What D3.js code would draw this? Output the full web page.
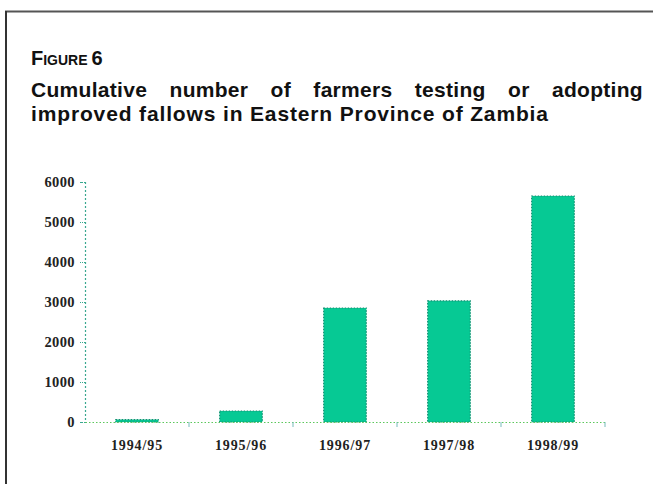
<!DOCTYPE html>
<html><head><meta charset="utf-8">
<script src="https://cdn.jsdelivr.net/npm/d3@7"></script>
<style>html,body{margin:0;padding:0;background:#fff;}</style>
</head><body>
<svg id="chart" width="653" height="484"></svg>
<script>
const categories = ["1994/95","1995/96","1996/97","1997/98","1998/99"];
const farmers = [60, 275, 2850, 3030, 5650];
const yTicks = [0,1000,2000,3000,4000,5000,6000];
const titleLines = ["Cumulative number of farmers testing or adopting","improved fallows in Eastern Province of Zambia"];

const svg = d3.select("#chart");
// frame lines (top and left)
svg.append("line").attr("x1",5).attr("x2",653).attr("y1",11.5).attr("y2",11.5).attr("stroke","#555").attr("stroke-width",2);
svg.append("line").attr("x1",6).attr("x2",6).attr("y1",11).attr("y2",484).attr("stroke","#333").attr("stroke-width",2);

const tf = "'Liberation Sans',Arial,sans-serif";
const fig = svg.append("text").attr("x",31).attr("y",65).attr("font-family",tf).attr("font-weight","bold").attr("fill","#111");
fig.append("tspan").attr("font-size",20).text("F");
fig.append("tspan").attr("font-size",14).text("IGURE ");
fig.append("tspan").attr("font-size",20).text("6");

// justified first line
const words = titleLines[0].split(" ");
const g1 = svg.append("g");
const wn = words.map(w => g1.append("text").attr("y",97).attr("font-family",tf).attr("font-weight","bold").attr("font-size",21).attr("letter-spacing",0.3).attr("fill","#111").text(w));
const widths = wn.map(n => n.node().getComputedTextLength());
const total = d3.sum(widths);
const left = 31, right = 643;
const gap = (right-left-total)/(words.length-1);
let cx = left;
wn.forEach((n,i)=>{ n.attr("x",cx); cx += widths[i]+gap; });
svg.append("text").attr("x",31).attr("y",121).attr("font-family",tf).attr("font-weight","bold").attr("font-size",21).attr("fill","#111")
  .attr("textLength",517).attr("lengthAdjust","spacing").text(titleLines[1]);

// chart
const x = d3.scaleBand().domain(categories).range([85,605]).paddingInner(0.59).paddingOuter(0.295);
const y = d3.scaleLinear().domain([0,6000]).range([422,182]);
const axisCol = "#3aa890";

// bars
svg.append("g").selectAll("rect").data(farmers).join("rect")
  .attr("x",(d,i)=>x(categories[i]))
  .attr("y",d=>y(d))
  .attr("width",x.bandwidth())
  .attr("height",d=>y(0)-y(d))
  .attr("fill","#06c994")
  .attr("stroke","#178f72").attr("stroke-width",1.2).attr("stroke-dasharray","1.5,1.5");

// y axis
const yAxis = svg.append("g").attr("transform","translate(85,0)").call(d3.axisLeft(y).tickValues(yTicks).tickSize(5).tickPadding(5).tickFormat(d3.format("d")));
yAxis.select(".domain").attr("stroke",axisCol).attr("stroke-dasharray","2,2").attr("stroke-width",1.2);
yAxis.selectAll(".tick line").attr("stroke",axisCol).attr("stroke-dasharray","1,1");
yAxis.selectAll(".tick text").attr("font-family","'Liberation Serif','Times New Roman',serif").attr("font-weight","bold").attr("font-size",14.5).attr("fill","#222").attr("letter-spacing",0.4);

// x axis
const xAxis = svg.append("g").attr("transform","translate(0,422)").call(d3.axisBottom(x).tickSize(0).tickPadding(18));
xAxis.select(".domain").attr("stroke","#5cc85c").attr("stroke-dasharray","1.5,2").attr("stroke-width",1.2);
xAxis.selectAll(".tick text").attr("font-family","'Liberation Serif','Times New Roman',serif").attr("font-weight","bold").attr("font-size",14).attr("fill","#222").attr("letter-spacing",0.9);
// band boundary ticks
const bstep = x.step();
svg.append("g").selectAll("line").data(categories.slice(1)).join("line")
  .attr("x1",c=>x(c)-(bstep - x.bandwidth())/2).attr("x2",c=>x(c)-(bstep - x.bandwidth())/2)
  .attr("y1",422).attr("y2",427).attr("stroke","#7bb").attr("stroke-width",1);
svg.append("line").attr("x1",605).attr("x2",605).attr("y1",422).attr("y2",427).attr("stroke","#7bb");
</script>
</body></html>
